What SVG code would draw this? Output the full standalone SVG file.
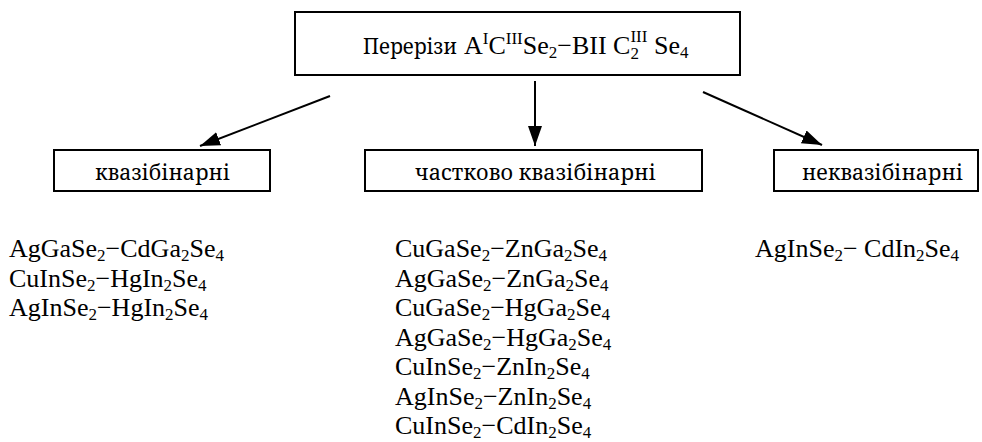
<svg xmlns="http://www.w3.org/2000/svg" width="982" height="442" viewBox="0 0 982 442">
  <style>
    .box { fill: #ffffff; stroke: #000000; stroke-width: 2; }
    .lbl { font-family: "Liberation Serif", "Times New Roman", serif; font-size: 26px; fill: #000000; }
    .cyr { font-family: "Noto Serif", "DejaVu Serif", "Liberation Serif", "FreeSerif", "Times New Roman", serif; font-size: 22px; fill: #000000; }
    .sub { font-size: 17px; }
    .link { stroke: #000000; stroke-width: 2; fill: none; marker-end: url(#head); }
  </style>
  <defs>
    <marker id="head" markerUnits="userSpaceOnUse" markerWidth="22" markerHeight="16" refX="20" refY="7" orient="auto">
      <path d="M0,0 L20,7 L0,14 z" fill="#000000"/>
    </marker>
  </defs>
  <rect width="982" height="442" fill="#ffffff"/>

  <g id="root">
    <rect class="box" x="295" y="12" width="445" height="63"/>
    <text class="cyr" x="363" y="54" font-size="24" textLength="94" lengthAdjust="spacingAndGlyphs">Перерізи</text>
    <text class="lbl" x="464" y="54">A<tspan class="sub" dy="-10">I</tspan><tspan dy="10">C</tspan><tspan class="sub" dy="-10">III</tspan><tspan dy="10">Se</tspan><tspan class="sub" dy="4">2</tspan><tspan dy="-4">−BII C</tspan><tspan class="sub" dy="5">2</tspan><tspan class="sub" dx="-8.5" dy="-17">III</tspan><tspan dy="12"> Se</tspan><tspan class="sub" dy="4">4</tspan></text>
  </g>

  <g id="connectors">
    <line class="link" x1="330" y1="96" x2="200" y2="146"/>
    <line class="link" x1="535" y1="81" x2="535" y2="146"/>
    <line class="link" x1="703" y1="92" x2="822" y2="145"/>
  </g>

  <g id="quasibinary">
    <rect class="box" x="54" y="150" width="216" height="41"/>
    <text class="cyr" x="95" y="180" textLength="135" lengthAdjust="spacingAndGlyphs">квазібінарні</text>
    <text class="lbl" x="9" y="257">AgGaSe<tspan class="sub" dy="4">2</tspan><tspan dy="-4">−CdGa</tspan><tspan class="sub" dy="4">2</tspan><tspan dy="-4">Se</tspan><tspan class="sub" dy="4">4</tspan></text>
    <text class="lbl" x="9" y="286.5">CuInSe<tspan class="sub" dy="4">2</tspan><tspan dy="-4">−HgIn</tspan><tspan class="sub" dy="4">2</tspan><tspan dy="-4">Se</tspan><tspan class="sub" dy="4">4</tspan></text>
    <text class="lbl" x="9" y="316">AgInSe<tspan class="sub" dy="4">2</tspan><tspan dy="-4">−HgIn</tspan><tspan class="sub" dy="4">2</tspan><tspan dy="-4">Se</tspan><tspan class="sub" dy="4">4</tspan></text>
  </g>

  <g id="partial">
    <rect class="box" x="365" y="150" width="337" height="41"/>
    <text class="cyr" x="415" y="180" textLength="241" lengthAdjust="spacingAndGlyphs">частково квазібінарні</text>
    <text class="lbl" x="395" y="257">CuGaSe<tspan class="sub" dy="4">2</tspan><tspan dy="-4">−ZnGa</tspan><tspan class="sub" dy="4">2</tspan><tspan dy="-4">Se</tspan><tspan class="sub" dy="4">4</tspan></text>
    <text class="lbl" x="395" y="286.5">AgGaSe<tspan class="sub" dy="4">2</tspan><tspan dy="-4">−ZnGa</tspan><tspan class="sub" dy="4">2</tspan><tspan dy="-4">Se</tspan><tspan class="sub" dy="4">4</tspan></text>
    <text class="lbl" x="395" y="316">CuGaSe<tspan class="sub" dy="4">2</tspan><tspan dy="-4">−HgGa</tspan><tspan class="sub" dy="4">2</tspan><tspan dy="-4">Se</tspan><tspan class="sub" dy="4">4</tspan></text>
    <text class="lbl" x="395" y="345.5">AgGaSe<tspan class="sub" dy="4">2</tspan><tspan dy="-4">−HgGa</tspan><tspan class="sub" dy="4">2</tspan><tspan dy="-4">Se</tspan><tspan class="sub" dy="4">4</tspan></text>
    <text class="lbl" x="395" y="375">CuInSe<tspan class="sub" dy="4">2</tspan><tspan dy="-4">−ZnIn</tspan><tspan class="sub" dy="4">2</tspan><tspan dy="-4">Se</tspan><tspan class="sub" dy="4">4</tspan></text>
    <text class="lbl" x="395" y="404.5">AgInSe<tspan class="sub" dy="4">2</tspan><tspan dy="-4">−ZnIn</tspan><tspan class="sub" dy="4">2</tspan><tspan dy="-4">Se</tspan><tspan class="sub" dy="4">4</tspan></text>
    <text class="lbl" x="395" y="434">CuInSe<tspan class="sub" dy="4">2</tspan><tspan dy="-4">−CdIn</tspan><tspan class="sub" dy="4">2</tspan><tspan dy="-4">Se</tspan><tspan class="sub" dy="4">4</tspan></text>
  </g>

  <g id="nonquasibinary">
    <rect class="box" x="774" y="150" width="204" height="41"/>
    <text class="cyr" x="802" y="180" textLength="161" lengthAdjust="spacingAndGlyphs">неквазібінарні</text>
    <text class="lbl" x="755" y="257">AgInSe<tspan class="sub" dy="4">2</tspan><tspan dy="-4">− CdIn</tspan><tspan class="sub" dy="4">2</tspan><tspan dy="-4">Se</tspan><tspan class="sub" dy="4">4</tspan></text>
  </g>
</svg>
